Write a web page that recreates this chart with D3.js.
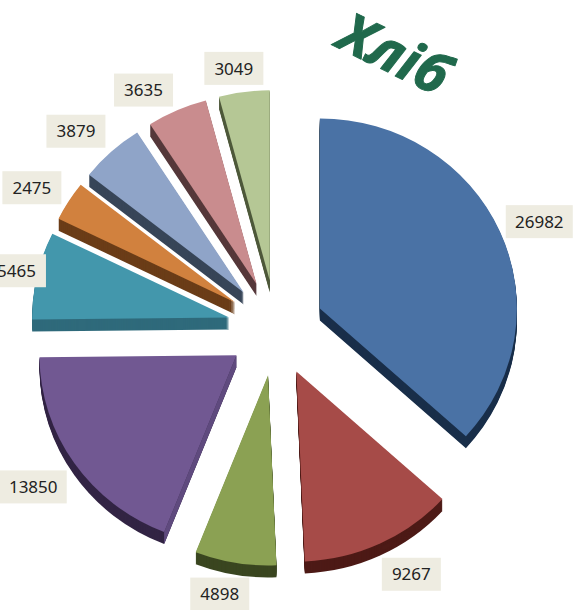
<!DOCTYPE html>
<html>
<head>
<meta charset="utf-8">
<style>
  html, body { margin: 0; padding: 0; background: #fff; }
  svg { display: block; }
</style>
<script src="https://cdn.jsdelivr.net/npm/d3@7"></script>
</head>
<body>
<div id="chart"></div>
<script>
const values = [26982, 9267, 4898, 13850, 5465, 2475, 3879, 3635, 3049];
const topColors = ['#4a72a5', '#a64b48', '#8ba153', '#715892', '#4397ac', '#d1813e', '#8fa4c8', '#c98c8e', '#b5c795'];
const sideColors = ['#1a2f4a', '#4d1a16', '#3a4620', '#322444', '#2f6a7b', '#6b3d18', '#374558', '#56393b', '#4f5a3c'];
const labelNudge = [[6, 8], [16, -9], [-9, -12], [-10, -1], [16, 5], [-5, 10], [-10, 12], [-18, 20], [-5, 20]];
const title = 'Хліб';

const W = 574, H = 610;
const cx = 276, cy = 328, R = 197, squash = 0.965, explode = 48, depth = 12;

const svg = d3.select('#chart').append('svg')
  .attr('width', W).attr('height', H);

const pie = d3.pie().sort(null).value(d => d);
const arc = d3.arc().innerRadius(0).outerRadius(R);
const arcs = pie(values);

// offset of each exploded slice along its middle angle
function unit(d) {
  const m = (d.startAngle + d.endAngle) / 2;
  return [Math.sin(m), -Math.cos(m)];
}

const slice = svg.append('g').selectAll('g')
  .data(arcs).join('g')
    .attr('transform', d => {
      const u = unit(d);
      return `translate(${cx + u[0] * explode},${cy + u[1] * explode})`;
    });

// side wall: the slice swept downwards
slice.each(function(d) {
  d3.select(this).selectAll('path.side')
    .data(d3.range(depth, 0, -1))
    .join('path')
      .attr('class', 'side')
      .attr('transform', k => `translate(0,${k}) scale(1,${squash})`)
      .attr('d', arc(d))
      .attr('fill', sideColors[d.index]);
});

// the purple slice catches the light on its right wall
slice.filter(d => d.index === 3).append('path')
  .attr('d', d => {
    const x = Math.sin(d.startAngle) * R, y = -Math.cos(d.startAngle) * R * squash;
    return `M0,0L${x},${y}L${x},${y + depth}L0,${depth}Z`;
  })
  .attr('fill', '#5f4a7e');

slice.append('path')
  .attr('d', arc)
  .attr('transform', `scale(1,${squash})`)
  .attr('fill', d => topColors[d.index]);

// Labels
const label = svg.append('g').selectAll('g')
  .data(arcs).join('g')
    .attr('transform', d => {
      const u = unit(d), n = labelNudge[d.index];
      const x = 275.5 + u[0] * 282 + n[0];
      const y = cy + u[1] * 282 + n[1];
      return `translate(${x},${y})`;
    });

label.append('rect')
  .attr('x', d => d.value >= 10000 ? -33.5 : -29.5)
  .attr('y', -16.5)
  .attr('width', d => d.value >= 10000 ? 67 : 59)
  .attr('height', 33)
  .attr('fill', '#eeece1');

label.append('text')
  .attr('text-anchor', 'middle')
  .attr('dy', '0.36em')
  .attr('font-family', '"Noto Sans", sans-serif')
  .attr('font-size', '17px')
  .attr('fill', '#222')
  .text(d => d.value);

svg.append('text')
  .attr('transform', 'translate(334,46) rotate(26)')
  .attr('font-family', '"Open Sans", sans-serif')
  .attr('font-size', '55px')
  .attr('font-weight', 'bold')
  .attr('font-style', 'italic')
  .attr('fill', '#20694c')
  .attr('stroke', '#20694c')
  .attr('stroke-width', 1)
  .attr('stroke-linejoin', 'round')
  .text(title);
</script>
</body>
</html>
